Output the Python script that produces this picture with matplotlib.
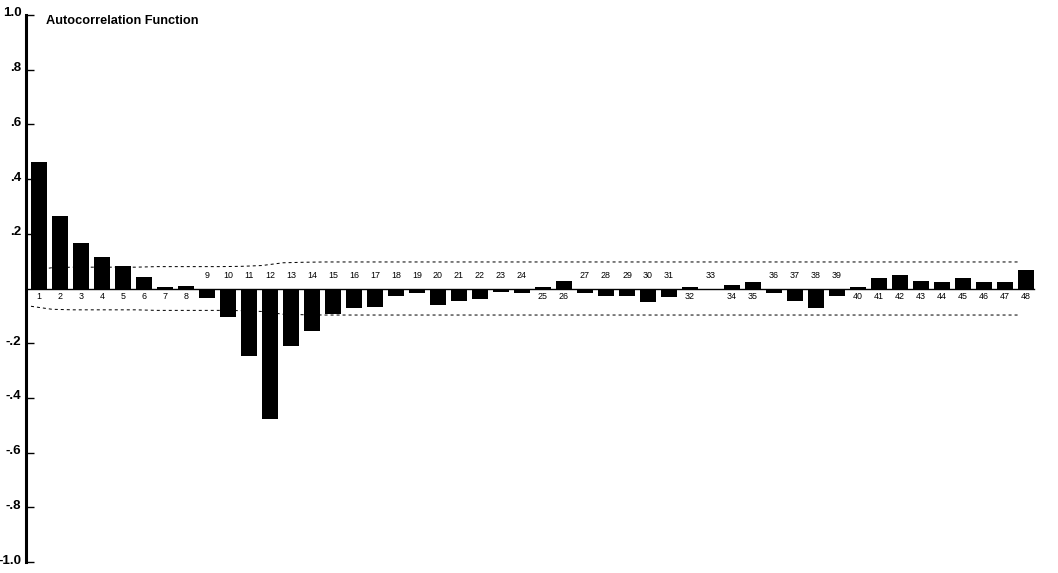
import numpy as np
import matplotlib
matplotlib.use("Agg")
import matplotlib.pyplot as plt
import matplotlib.transforms as mtransforms

# Autocorrelation values, lags 1..48
lags = list(range(1, 49))
acf = [0.462, 0.265, 0.166, 0.115, 0.082, 0.043, 0.005, 0.008,
       -0.034, -0.103, -0.246, -0.476, -0.209, -0.154, -0.092, -0.070,
       -0.066, -0.026, -0.015, -0.060, -0.046, -0.038, -0.012, -0.015,
       0.007, 0.026, -0.017, -0.028, -0.028, -0.050, -0.032, 0.007,
       -0.005, 0.012, 0.024, -0.016, -0.045, -0.071, -0.027, 0.007,
       0.037, 0.049, 0.026, 0.022, 0.037, 0.022, 0.022, 0.066]

# confidence band half-width at each lag (dashed lines)
band = [0.065, 0.076, 0.078, 0.078, 0.078, 0.078, 0.080, 0.080,
        0.080, 0.080, 0.081, 0.084, 0.094, 0.096, 0.097, 0.097,
        0.097, 0.097, 0.097, 0.097, 0.097, 0.097, 0.097, 0.097,
        0.097, 0.097, 0.097, 0.097, 0.097, 0.097, 0.097, 0.097,
        0.097, 0.097, 0.097, 0.097, 0.097, 0.097, 0.097, 0.097,
        0.097, 0.097, 0.097, 0.097, 0.097, 0.097, 0.097, 0.097]

ytick_vals = [-1.0, -0.8, -0.6, -0.4, -0.2, 0.2, 0.4, 0.6, 0.8, 1.0]
ytick_labels = ["-1.0", "-.8", "-.6", "-.4", "-.2", ".2", ".4", ".6", ".8", "1.0"]

plt.rcParams['font.family'] = ['Liberation Sans', 'DejaVu Sans']

W, H = 1058, 573
fig = plt.figure(figsize=(W / 100, H / 100), dpi=100)
ax = fig.add_axes([25.5 / W, 11 / H, 1 - 25.5 / W, 547 / H])

bar_w = 16 / 21
x = np.array(lags)
ax.bar(x, acf, width=bar_w, color="black", zorder=3)

# dashed confidence lines drawn from the bar left edges
xb = x - bar_w / 2
ax.plot(xb, band, color="black", lw=0.72, linestyle=(0, (3, 3)), zorder=2)
ax.plot(xb, -np.array(band), color="black", lw=0.72, linestyle=(0, (3, 3)), zorder=2)

# zero line
ax.plot([0.0, x[-1] + bar_w / 2], [0, 0], color="black", lw=1.0, zorder=4)

# lag labels
for lag, v in zip(lags, acf):
    if v >= 0:
        ax.text(lag, -0.012, str(lag), ha="center", va="top", fontsize=6.4)
    else:
        ax.text(lag, 0.030, str(lag), ha="center", va="bottom", fontsize=6.4)

ax.set_xlim((25.5 - 18) / 21, (W - 18) / 21)
ax.set_ylim(-1.0, 1.0)

for s in ["top", "right", "bottom"]:
    ax.spines[s].set_visible(False)
ax.spines["left"].set_linewidth(2.2)
ax.set_xticks([])
ax.set_yticks(ytick_vals)
ax.set_yticklabels(ytick_labels, fontsize=9.6, fontweight="bold")
ax.tick_params(axis="y", direction="in", length=6, width=1.0, pad=3)
shift = mtransforms.ScaledTranslation(0, -1.5 / 100, fig.dpi_scale_trans)
for lab in ax.get_yticklabels():
    lab.set_verticalalignment("baseline")
    lab.set_transform(lab.get_transform() + shift)

fig.text(46 / W, 1 - 15 / H, "Autocorrelation Function", fontsize=9.2,
         fontweight="bold", ha="left", va="top")

fig.savefig("out.png", dpi=100, facecolor="white")
